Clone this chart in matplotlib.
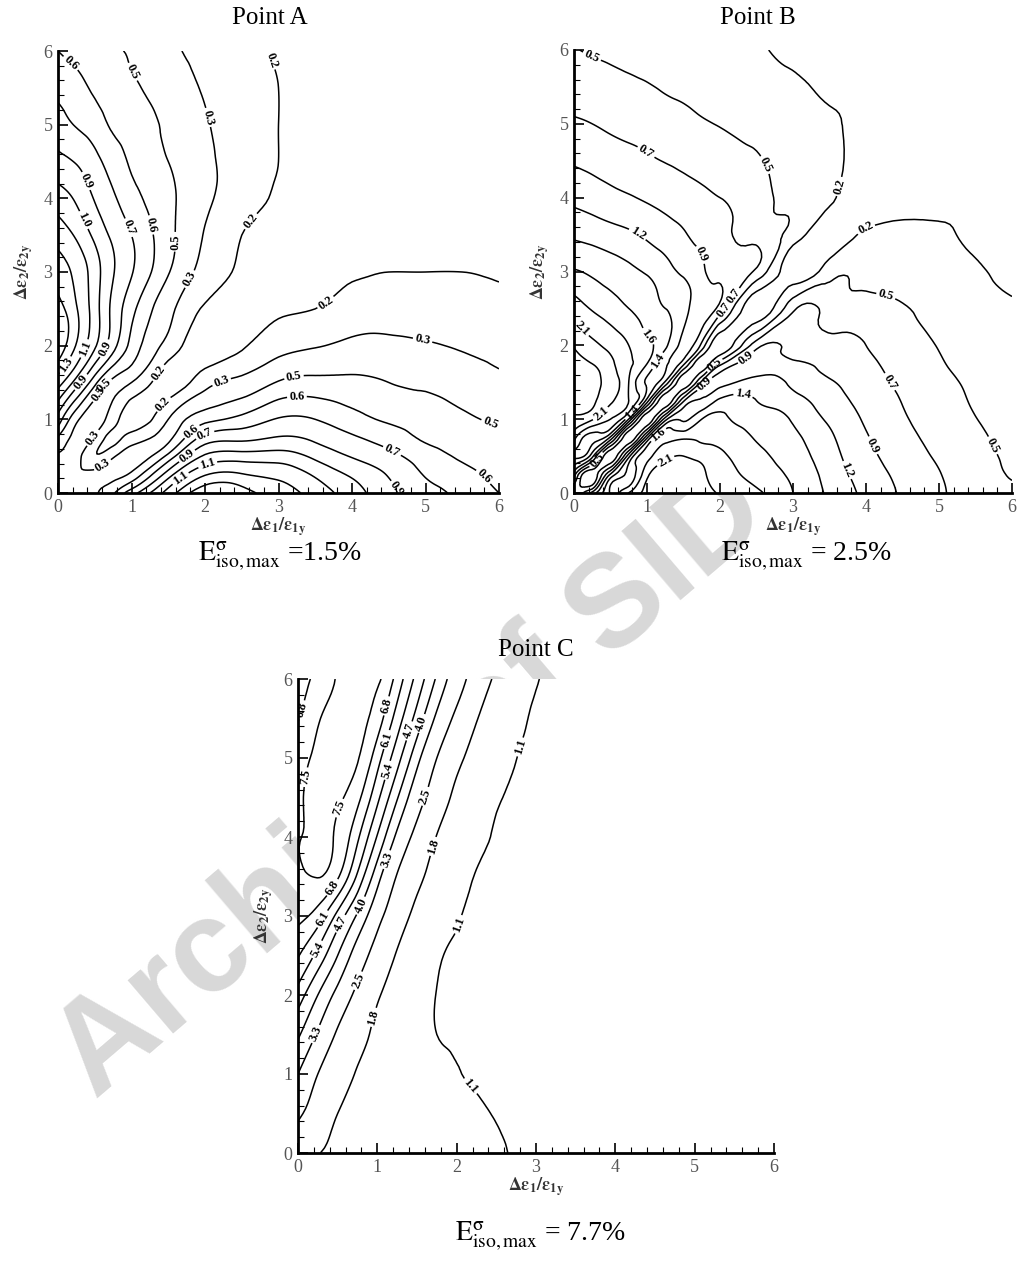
import numpy as np
import matplotlib
matplotlib.use('Agg')
import matplotlib.pyplot as plt
import matplotlib.tri as mtri
from matplotlib.ticker import MultipleLocator

plt.rcParams['font.family'] = ['Liberation Serif', 'DejaVu Serif']
plt.rcParams['mathtext.fontset'] = 'stix'

# ---------------- data ----------------
# Point A : same nodes in x and y, one row of the field per y node
a_nodes = [0, 0.25, 0.5, 0.75, 1, 1.5, 2, 2.5, 3, 3.5, 4, 4.5, 5, 5.5, 6]
a_field = [
    [0.41, 0.42, 0.45, 0.57, 0.80, 1.18, 1.50, 1.45, 1.33, 1.20, 1.05, 0.90, 0.78, 0.68, 0.59],
    [0.42, 0.35, 0.38, 0.42, 0.49, 0.93, 1.25, 1.27, 1.22, 1.10, 0.97, 0.85, 0.71, 0.63, 0.55],
    [0.45, 0.38, 0.20, 0.30, 0.37, 0.63, 1.01, 1.05, 1.05, 0.96, 0.85, 0.76, 0.65, 0.57, 0.51],
    [0.57, 0.42, 0.30, 0.15, 0.25, 0.42, 0.77, 0.82, 0.87, 0.83, 0.74, 0.66, 0.57, 0.52, 0.47],
    [0.80, 0.49, 0.37, 0.25, 0.12, 0.32, 0.55, 0.63, 0.73, 0.72, 0.64, 0.57, 0.53, 0.48, 0.45],
    [1.18, 0.93, 0.63, 0.42, 0.32, 0.13, 0.27, 0.36, 0.47, 0.50, 0.49, 0.46, 0.43, 0.39, 0.35],
    [1.50, 1.25, 1.01, 0.77, 0.55, 0.27, 0.11, 0.17, 0.27, 0.31, 0.35, 0.35, 0.33, 0.31, 0.29],
    [1.45, 1.27, 1.05, 0.82, 0.63, 0.36, 0.17, 0.12, 0.17, 0.19, 0.24, 0.26, 0.26, 0.25, 0.23],
    [1.33, 1.22, 1.05, 0.87, 0.73, 0.47, 0.27, 0.17, 0.13, 0.16, 0.18, 0.19, 0.19, 0.19, 0.18],
    [1.20, 1.10, 0.96, 0.83, 0.72, 0.50, 0.31, 0.19, 0.16, 0.14, 0.16, 0.17, 0.17, 0.17, 0.16],
    [1.05, 0.97, 0.85, 0.74, 0.64, 0.49, 0.35, 0.24, 0.18, 0.16, 0.14, 0.15, 0.15, 0.15, 0.15],
    [0.90, 0.85, 0.76, 0.66, 0.57, 0.46, 0.35, 0.26, 0.19, 0.17, 0.15, 0.14, 0.14, 0.14, 0.14],
    [0.78, 0.71, 0.65, 0.57, 0.53, 0.43, 0.33, 0.26, 0.19, 0.17, 0.15, 0.14, 0.13, 0.13, 0.13],
    [0.68, 0.63, 0.57, 0.52, 0.48, 0.39, 0.31, 0.25, 0.19, 0.17, 0.15, 0.14, 0.13, 0.12, 0.12],
    [0.59, 0.55, 0.51, 0.47, 0.45, 0.35, 0.29, 0.23, 0.18, 0.16, 0.15, 0.14, 0.13, 0.12, 0.11],
]
a_levels = [0.19, 0.32, 0.46, 0.59, 0.72, 0.86, 0.99, 1.12, 1.26, 1.39]

# Point B
b_nodes = [0, 0.25, 0.5, 0.75, 1, 1.25, 1.5, 1.75, 2, 2.5, 3, 3.5, 4, 5, 6]
b_field = [
    [0.25, 0.78, 1.40, 1.85, 2.13, 2.18, 2.20, 2.15, 2.05, 1.88, 1.61, 1.34, 1.10, 0.72, 0.52],
    [0.80, 0.05, 0.96, 1.44, 2.01, 2.17, 2.18, 2.11, 1.96, 1.76, 1.56, 1.30, 1.05, 0.70, 0.44],
    [1.45, 1.00, 0.05, 1.07, 1.78, 2.01, 2.07, 2.00, 1.89, 1.68, 1.49, 1.25, 0.99, 0.66, 0.42],
    [1.92, 1.49, 1.10, 0.05, 1.12, 1.78, 1.80, 1.80, 1.76, 1.59, 1.43, 1.20, 0.94, 0.62, 0.40],
    [2.25, 2.10, 1.84, 1.15, 0.05, 1.05, 1.35, 1.61, 1.66, 1.50, 1.36, 1.12, 0.89, 0.58, 0.37],
    [2.40, 2.33, 2.12, 1.84, 1.05, 0.05, 0.88, 1.19, 1.43, 1.38, 1.25, 1.03, 0.84, 0.55, 0.35],
    [2.47, 2.38, 2.20, 1.84, 1.35, 0.88, 0.05, 0.75, 1.08, 1.24, 1.11, 0.94, 0.79, 0.52, 0.33],
    [2.40, 2.30, 2.13, 1.88, 1.61, 1.19, 0.75, 0.05, 0.62, 1.04, 0.97, 0.86, 0.74, 0.48, 0.31],
    [2.28, 2.13, 2.00, 1.84, 1.66, 1.43, 1.08, 0.62, 0.05, 0.83, 0.82, 0.77, 0.69, 0.45, 0.29],
    [1.96, 1.82, 1.72, 1.61, 1.50, 1.38, 1.24, 1.04, 0.83, 0.06, 0.64, 0.60, 0.55, 0.37, 0.25],
    [1.63, 1.57, 1.50, 1.43, 1.36, 1.25, 1.12, 0.97, 0.82, 0.64, 0.08, 0.36, 0.40, 0.29, 0.20],
    [1.34, 1.30, 1.25, 1.20, 1.12, 1.03, 0.94, 0.86, 0.77, 0.60, 0.36, 0.09, 0.27, 0.25, 0.18],
    [1.10, 1.05, 0.99, 0.94, 0.89, 0.84, 0.79, 0.74, 0.69, 0.55, 0.40, 0.27, 0.11, 0.16, 0.16],
    [0.72, 0.69, 0.65, 0.62, 0.59, 0.55, 0.52, 0.48, 0.45, 0.38, 0.30, 0.25, 0.16, 0.11, 0.13],
    [0.47, 0.44, 0.42, 0.40, 0.37, 0.35, 0.33, 0.31, 0.29, 0.25, 0.20, 0.18, 0.16, 0.13, 0.11],
]
b_levels = [0.23, 0.46, 0.69, 0.92, 1.16, 1.38, 1.61, 1.84, 2.07, 2.30]

# Point C
c_x = [0, 0.25, 0.5, 0.75, 1, 1.25, 1.5, 1.75, 2, 2.5, 3, 4, 5, 6]
c_y = [0, 0.5, 1, 1.5, 2, 2.5, 3, 3.5, 4, 4.5, 5, 5.5, 6]
c_field = [
    [2.20, 1.83, 1.75, 1.67, 1.60, 1.53, 1.45, 1.38, 1.30, 1.15, 1.00, 0.90, 0.80, 0.70],
    [2.60, 2.19, 1.80, 1.71, 1.62, 1.53, 1.44, 1.34, 1.25, 1.08, 1.00, 0.90, 0.80, 0.70],
    [3.30, 2.50, 2.09, 1.76, 1.64, 1.51, 1.38, 1.26, 1.13, 1.00, 0.95, 0.88, 0.80, 0.70],
    [4.10, 3.20, 2.41, 1.99, 1.69, 1.50, 1.30, 1.10, 1.04, 0.98, 0.93, 0.87, 0.80, 0.70],
    [5.10, 4.00, 3.08, 2.33, 1.86, 1.58, 1.34, 1.09, 1.02, 0.96, 0.93, 0.87, 0.80, 0.70],
    [6.15, 5.17, 4.00, 2.94, 2.22, 1.76, 1.49, 1.17, 1.05, 0.96, 0.93, 0.87, 0.80, 0.70],
    [6.95, 6.47, 5.17, 3.90, 2.75, 2.08, 1.67, 1.40, 1.14, 0.98, 0.93, 0.87, 0.80, 0.70],
    [7.38, 7.52, 6.90, 5.27, 3.58, 2.46, 1.93, 1.60, 1.29, 1.00, 0.94, 0.88, 0.80, 0.70],
    [7.47, 7.60, 7.39, 6.23, 4.64, 3.14, 2.30, 1.78, 1.46, 1.06, 0.96, 0.88, 0.80, 0.70],
    [7.42, 7.62, 7.58, 7.00, 5.58, 4.06, 2.82, 2.14, 1.66, 1.14, 0.98, 0.88, 0.80, 0.70],
    [7.25, 7.60, 7.70, 7.55, 6.39, 4.97, 3.53, 2.50, 1.95, 1.29, 1.00, 0.90, 0.80, 0.70],
    [6.75, 7.44, 7.65, 7.65, 7.15, 5.78, 4.43, 3.15, 2.35, 1.45, 1.05, 0.90, 0.80, 0.70],
    [6.50, 7.00, 7.55, 7.70, 7.62, 6.53, 5.17, 3.90, 2.86, 1.70, 1.12, 0.93, 0.80, 0.70],
]
c_levels = [1.1, 1.8, 2.5, 3.3, 4.0, 4.7, 5.4, 6.1, 6.8, 7.5]

e_max = ['=1.5%', '= 2.5%', '= 7.7%']

# where the line labels sit (data units)
a_spots = [(0.16, 5.82), (0.98, 5.70), (2.05, 5.10), (2.92, 5.88), (0.37, 4.23), (0.30, 3.68),
           (0.93, 3.59), (1.27, 3.64), (1.64, 3.41), (2.66, 3.66), (1.89, 2.85), (3.56, 2.70),
           (4.97, 2.12), (1.34, 1.65), (2.20, 1.58), (3.20, 1.64), (3.25, 1.33), (1.43, 1.21),
           (5.88, 0.92), (4.61, 0.70), (5.83, 0.26), (1.84, 0.81), (2.01, 0.77), (1.75, 0.51),
           (2.02, 0.44), (1.68, 0.18), (0.39, 1.95), (0.66, 1.95), (0.09, 1.75), (0.32, 1.50),
           (0.52, 1.37), (0.62, 1.44), (0.46, 0.76), (0.66, 0.30), (4.6, 0.05)]
b_spots = [(0.26, 5.95), (1.0, 4.64), (0.86, 3.49), (1.77, 3.24), (2.57, 4.42), (3.64, 4.15),
           (4.01, 3.56), (4.28, 2.70), (4.28, 1.48), (4.15, 0.67), (3.74, 0.31), (5.79, 0.67),
           (1.0, 2.11), (1.13, 1.80), (0.36, 1.08), (0.08, 2.20), (1.82, 1.44), (2.32, 1.35),
           (2.37, 1.82), (2.14, 2.70), (2.05, 2.48), (1.93, 1.73), (1.22, 0.49), (1.18, 0.76),
           (0.8, 1.09), (0.3, 0.45)]
c_spots = [(0.08, 5.60), (0.08, 4.76), (0.60, 4.34), (0.48, 3.33), (0.33, 2.95), (0.22, 2.59),
           (0.58, 2.88), (0.77, 3.14), (1.13, 3.71), (1.62, 4.51), (1.74, 3.87), (2.0, 2.90),
           (1.15, 5.65), (1.13, 5.23), (1.11, 4.85), (1.38, 5.35), (1.55, 5.44), (2.80, 5.14),
           (0.76, 2.18), (0.24, 1.50), (0.87, 1.74), (2.2, 0.87)]


def grid_tri(xs, ys):
    X, Y = np.meshgrid(xs, ys)
    nx = len(xs)
    tris = []
    for j in range(len(ys) - 1):
        for i in range(nx - 1):
            p = j * nx + i
            tris.append([p, p + 1, p + nx + 1])
            tris.append([p, p + nx + 1, p + nx])
    return mtri.Triangulation(X.ravel(), Y.ravel(), tris)


def draw(ax, xs, ys, field, levels, spots):
    tri = grid_tri(xs, ys)
    tri_f, z_f = mtri.UniformTriRefiner(tri).refine_field(np.array(field, float).ravel(), subdiv=3)
    cs = ax.tricontour(tri_f, z_f, levels=levels, colors='black', linewidths=1.1)
    labels = ax.clabel(cs, fmt='%.1f', fontsize=9, inline=True, inline_spacing=2, manual=spots)
    for t in labels:
        t.set_fontweight('bold')
    ax.set_xlim(0, 6)
    ax.set_ylim(0, 6)
    ax.spines['top'].set_visible(False)
    ax.spines['right'].set_visible(False)
    ax.spines['left'].set_linewidth(2)
    ax.spines['bottom'].set_linewidth(2)
    ax.xaxis.set_major_locator(MultipleLocator(1))
    ax.yaxis.set_major_locator(MultipleLocator(1))
    ax.xaxis.set_minor_locator(MultipleLocator(0.2))
    ax.yaxis.set_minor_locator(MultipleLocator(0.2))
    ax.tick_params(which='both', direction='in', top=False, right=False)
    ax.tick_params(which='major', length=7, width=1.2, labelsize=13, labelcolor='#555555', pad=4)
    ax.tick_params(which='minor', length=4, width=0.8)
    ax.set_xlabel(r'$\mathbf{\Delta\varepsilon_1/\varepsilon_{1y}}$', fontsize=13, color='#333333', labelpad=0)
    ax.set_ylabel(r'$\mathbf{\Delta\varepsilon_2/\varepsilon_{2y}}$', fontsize=13, color='#333333', labelpad=6)


fig = plt.figure(figsize=(10.17, 12.62), dpi=100)

# grey watermark lying under the panels
fig.text(95 / 1017, 1 - 1100 / 1262, 'Archive of SID', rotation=40.5, rotation_mode='anchor',
         fontsize=94, color='#d8d8d8', family='Liberation Sans', fontweight='bold',
         ha='left', va='baseline', zorder=-1)

ax_a = fig.add_axes([58 / 1017, 1 - 493 / 1262, 441 / 1017, 442 / 1262])
ax_b = fig.add_axes([574 / 1017, 1 - 493 / 1262, 438 / 1017, 443 / 1262])
ax_c = fig.add_axes([298 / 1017, 1 - 1153 / 1262, 476 / 1017, 474 / 1262])

draw(ax_a, a_nodes, a_nodes, a_field, a_levels, a_spots)
draw(ax_b, b_nodes, b_nodes, b_field, b_levels, b_spots)
draw(ax_c, c_x, c_y, c_field, c_levels, c_spots)

fig.text(270 / 1017, 1 - 18 / 1262, 'Point A', fontsize=18, ha='center', va='center')
fig.text(758 / 1017, 1 - 18 / 1262, 'Point B', fontsize=18, ha='center', va='center')
fig.text(536 / 1017, 1 - 650 / 1262, 'Point C', fontsize=18, ha='center', va='center')

for cx, cy, val in [(280, 560, e_max[0]), (806, 560, e_max[1]), (540, 1240, e_max[2])]:
    fig.text(cx / 1017, 1 - cy / 1262, r'$\mathrm{E}^{\mathrm{σ}}_{\mathrm{iso,max}}$ ' + val,
             fontsize=20, ha='center', va='baseline')

fig.savefig('out.png', dpi=100)
